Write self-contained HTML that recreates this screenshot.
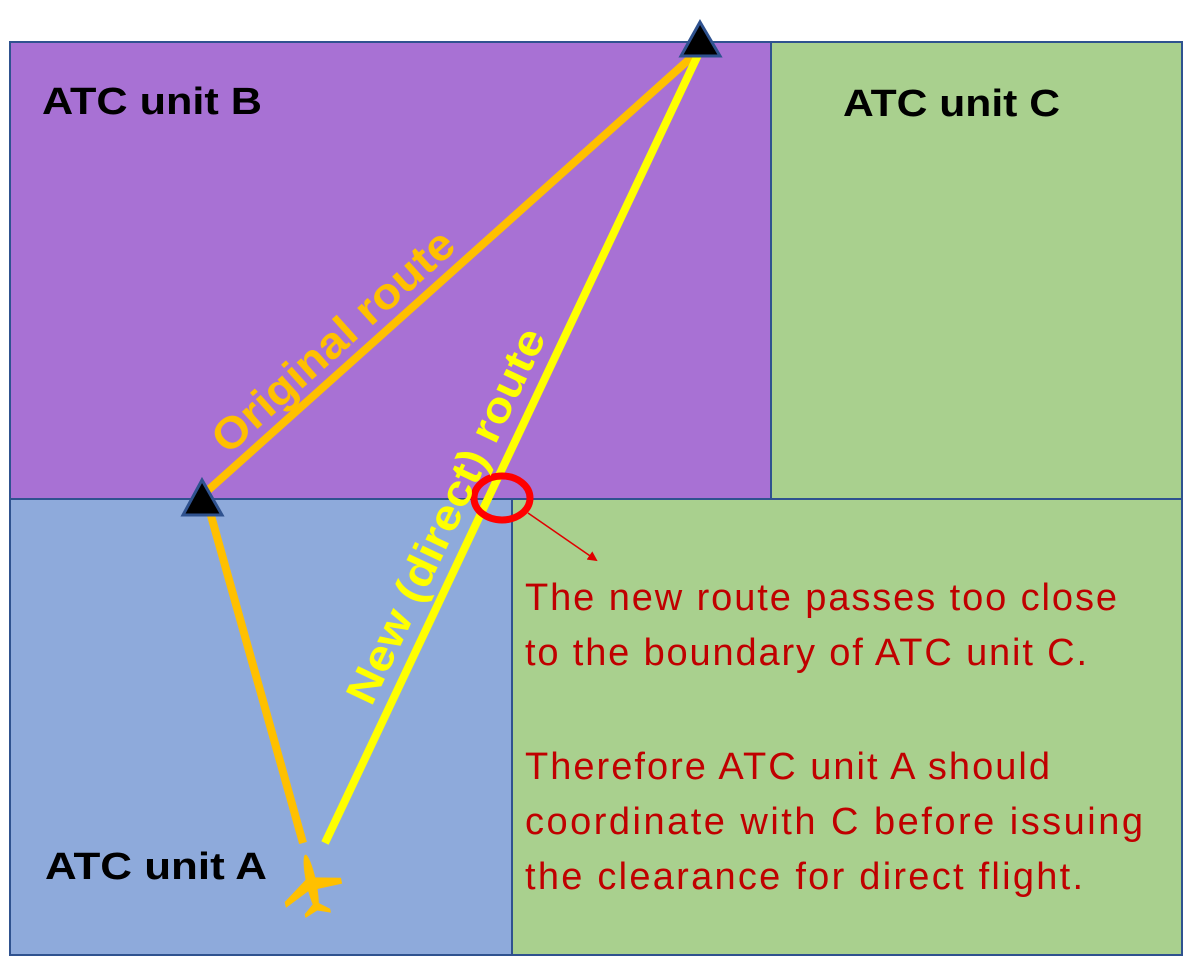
<!DOCTYPE html>
<html><head><meta charset="utf-8"><style>
html,body{margin:0;padding:0;background:#fff;width:1200px;height:971px;overflow:hidden}
</style></head><body>
<svg width="1200" height="971" viewBox="0 0 1200 971" xmlns="http://www.w3.org/2000/svg" font-family="Liberation Sans, sans-serif">
<defs><marker id="ah" markerWidth="10" markerHeight="10" refX="8" refY="5" orient="auto" markerUnits="userSpaceOnUse"><path d="M0,0 L10,5 L0,10 z" fill="#e00000"/></marker></defs>
<rect x="771" y="42" width="411" height="913" fill="#a9d08e" stroke="#2f528f" stroke-width="2"/>
<rect x="512" y="499" width="670" height="456" fill="#a9d08e" stroke="#2f528f" stroke-width="2"/>
<rect x="10" y="42" width="761" height="457" fill="#a871d4" stroke="#2f528f" stroke-width="2"/>
<rect x="10" y="499" width="502" height="456" fill="#8eaadb" stroke="#2f528f" stroke-width="2"/>
<line x1="205" y1="493" x2="694" y2="55" stroke="#ffc000" stroke-width="8"/>
<line x1="210" y1="512" x2="303" y2="843" stroke="#ffc000" stroke-width="8"/>
<line x1="325" y1="843" x2="698" y2="55" stroke="#ffff00" stroke-width="8"/>
<polygon points="202,480 183,515 222,515" fill="#000" stroke="#2f528f" stroke-width="3"/>
<polygon points="700,22 681,56 720,56" fill="#000" stroke="#2f528f" stroke-width="3"/>
<ellipse cx="502" cy="498" rx="28" ry="22" fill="none" stroke="#ff0000" stroke-width="7"/>
<line x1="528" y1="513" x2="596" y2="560" stroke="#e00000" stroke-width="1.5" marker-end="url(#ah)"/>
<text transform="translate(343,352) rotate(-42)" text-anchor="middle" font-size="44" font-weight="bold" fill="#ffc000" textLength="310" lengthAdjust="spacingAndGlyphs">Original route</text>
<text transform="translate(459,522) rotate(-64.7)" text-anchor="middle" font-size="43" font-weight="bold" fill="#ffff00" textLength="410" lengthAdjust="spacingAndGlyphs">New (direct) route</text>
<g transform="translate(312,886) rotate(-12)" fill="#ffc000">
<ellipse cx="0" cy="-4" rx="5" ry="28"/>
<polygon points="-4,-8 -30,10 -30,16 -4,4 4,4 30,4 30,-2 4,-8"/>
<polygon points="-3,18 -13,26 -13,30 0,25 13,30 13,26 3,18"/>
</g>
<g font-size="38" font-weight="bold" fill="#000">
<text x="42" y="114" textLength="220" lengthAdjust="spacingAndGlyphs">ATC unit B</text>
<text x="843" y="116" textLength="217" lengthAdjust="spacingAndGlyphs">ATC unit C</text>
<text x="45" y="879" textLength="222" lengthAdjust="spacingAndGlyphs">ATC unit A</text>
</g>
<g font-size="38" fill="#c00000" lengthAdjust="spacingAndGlyphs">
<text x="525" y="610" textLength="592">The new route passes too close</text>
<text x="525" y="665" textLength="562">to the boundary of ATC unit C.</text>
<text x="525" y="779" textLength="525">Therefore ATC unit A should</text>
<text x="525" y="834" textLength="618">coordinate  with C before issuing</text>
<text x="525" y="889" textLength="558">the clearance for direct flight.</text>
</g>
</svg>
</body></html>
